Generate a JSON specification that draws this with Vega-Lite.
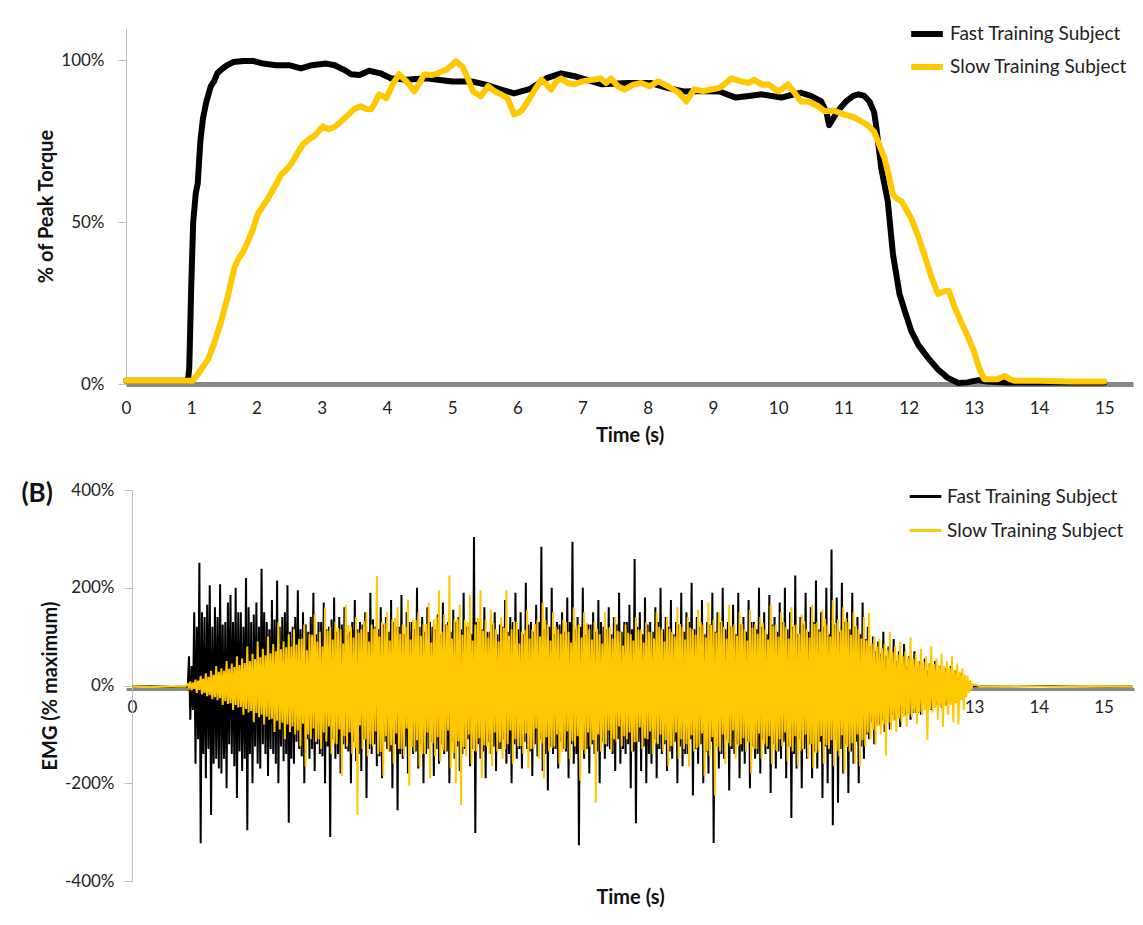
{
"$schema": "https://vega.github.io/schema/vega-lite/v6.json",
"background": "white",
"padding": {"left": 21, "top": 15, "right": 5, "bottom": 5},
"config": {
 "font": "Lato",
 "view": {"stroke": null},
 "axis": {"labelFont": "Lato", "labelFontSize": 17, "labelColor": "#222222", "titleFont": "Lato", "titleFontSize": 20, "titleFontWeight": "bold", "titleColor": "#111111", "grid": false},
 "legend": {"labelFont": "Lato", "labelFontSize": 19, "labelColor": "#222222", "labelLimit": 0},
 "concat": {"spacing": 34}
},
"resolve": {"scale": {"x": "independent", "y": "independent", "color": "independent"}, "legend": {"color": "independent"}},
"datasets": {
 "torque": [
  {"s":"F","t":0,"v":0.01},{"s":"F","t":0.5,"v":0.01},{"s":"F","t":0.95,"v":0.01},{"s":"F","t":0.97,"v":0.05},{"s":"F","t":1.0,"v":0.30},{"s":"F","t":1.03,"v":0.50},{"s":"F","t":1.07,"v":0.59},{"s":"F","t":1.1,"v":0.62},{"s":"F","t":1.14,"v":0.75},{"s":"F","t":1.18,"v":0.82},{"s":"F","t":1.23,"v":0.87},{"s":"F","t":1.3,"v":0.92},{"s":"F","t":1.35,"v":0.935},{"s":"F","t":1.4,"v":0.96},{"s":"F","t":1.48,"v":0.975},{"s":"F","t":1.55,"v":0.985},{"s":"F","t":1.65,"v":0.995},{"s":"F","t":1.8,"v":0.998},{"s":"F","t":1.95,"v":0.998},{"s":"F","t":2.1,"v":0.99},{"s":"F","t":2.3,"v":0.985},{"s":"F","t":2.5,"v":0.985},{"s":"F","t":2.68,"v":0.975},{"s":"F","t":2.85,"v":0.985},{"s":"F","t":3.07,"v":0.99},{"s":"F","t":3.2,"v":0.985},{"s":"F","t":3.35,"v":0.97},{"s":"F","t":3.45,"v":0.957},{"s":"F","t":3.58,"v":0.955},{"s":"F","t":3.73,"v":0.968},{"s":"F","t":3.9,"v":0.96},{"s":"F","t":4.06,"v":0.945},{"s":"F","t":4.3,"v":0.94},{"s":"F","t":4.6,"v":0.945},{"s":"F","t":5.0,"v":0.935},{"s":"F","t":5.3,"v":0.935},{"s":"F","t":5.5,"v":0.926},{"s":"F","t":5.75,"v":0.91},{"s":"F","t":5.95,"v":0.898},{"s":"F","t":6.2,"v":0.912},{"s":"F","t":6.45,"v":0.945},{"s":"F","t":6.67,"v":0.96},{"s":"F","t":6.9,"v":0.95},{"s":"F","t":7.3,"v":0.926},{"s":"F","t":7.7,"v":0.93},{"s":"F","t":8.05,"v":0.93},{"s":"F","t":8.3,"v":0.915},{"s":"F","t":8.55,"v":0.904},{"s":"F","t":8.8,"v":0.905},{"s":"F","t":9.1,"v":0.904},{"s":"F","t":9.35,"v":0.885},{"s":"F","t":9.55,"v":0.89},{"s":"F","t":9.75,"v":0.895},{"s":"F","t":10.05,"v":0.885},{"s":"F","t":10.2,"v":0.893},{"s":"F","t":10.35,"v":0.9},{"s":"F","t":10.5,"v":0.89},{"s":"F","t":10.66,"v":0.873},{"s":"F","t":10.74,"v":0.84},{"s":"F","t":10.78,"v":0.80},{"s":"F","t":10.84,"v":0.82},{"s":"F","t":10.94,"v":0.85},{"s":"F","t":11.05,"v":0.875},{"s":"F","t":11.15,"v":0.89},{"s":"F","t":11.23,"v":0.895},{"s":"F","t":11.32,"v":0.89},{"s":"F","t":11.4,"v":0.873},{"s":"F","t":11.47,"v":0.84},{"s":"F","t":11.5,"v":0.80},{"s":"F","t":11.58,"v":0.667},{"s":"F","t":11.68,"v":0.565},{"s":"F","t":11.76,"v":0.40},{"s":"F","t":11.86,"v":0.278},{"s":"F","t":11.95,"v":0.22},{"s":"F","t":12.04,"v":0.164},{"s":"F","t":12.15,"v":0.12},{"s":"F","t":12.3,"v":0.08},{"s":"F","t":12.45,"v":0.045},{"s":"F","t":12.6,"v":0.019},{"s":"F","t":12.76,"v":0.003},{"s":"F","t":12.9,"v":0.005},{"s":"F","t":13.07,"v":0.012},{"s":"F","t":13.2,"v":0.008},{"s":"F","t":13.5,"v":0.005},{"s":"F","t":14,"v":0.005},{"s":"F","t":14.5,"v":0.005},{"s":"F","t":15,"v":0.005},
  {"s":"S","t":0,"v":0.01},{"s":"S","t":0.5,"v":0.01},{"s":"S","t":1.02,"v":0.01},{"s":"S","t":1.1,"v":0.03},{"s":"S","t":1.26,"v":0.077},{"s":"S","t":1.36,"v":0.13},{"s":"S","t":1.46,"v":0.194},{"s":"S","t":1.56,"v":0.27},{"s":"S","t":1.66,"v":0.358},{"s":"S","t":1.72,"v":0.386},{"s":"S","t":1.8,"v":0.41},{"s":"S","t":1.87,"v":0.44},{"s":"S","t":1.95,"v":0.48},{"s":"S","t":2.02,"v":0.525},{"s":"S","t":2.1,"v":0.55},{"s":"S","t":2.18,"v":0.574},{"s":"S","t":2.28,"v":0.61},{"s":"S","t":2.38,"v":0.648},{"s":"S","t":2.45,"v":0.66},{"s":"S","t":2.53,"v":0.679},{"s":"S","t":2.62,"v":0.71},{"s":"S","t":2.71,"v":0.74},{"s":"S","t":2.8,"v":0.755},{"s":"S","t":2.88,"v":0.765},{"s":"S","t":2.95,"v":0.78},{"s":"S","t":3.02,"v":0.796},{"s":"S","t":3.11,"v":0.787},{"s":"S","t":3.2,"v":0.795},{"s":"S","t":3.3,"v":0.812},{"s":"S","t":3.4,"v":0.83},{"s":"S","t":3.5,"v":0.85},{"s":"S","t":3.6,"v":0.858},{"s":"S","t":3.68,"v":0.85},{"s":"S","t":3.76,"v":0.849},{"s":"S","t":3.82,"v":0.87},{"s":"S","t":3.88,"v":0.895},{"s":"S","t":3.99,"v":0.883},{"s":"S","t":4.1,"v":0.93},{"s":"S","t":4.19,"v":0.957},{"s":"S","t":4.3,"v":0.935},{"s":"S","t":4.42,"v":0.904},{"s":"S","t":4.5,"v":0.93},{"s":"S","t":4.57,"v":0.956},{"s":"S","t":4.7,"v":0.955},{"s":"S","t":4.78,"v":0.96},{"s":"S","t":4.9,"v":0.97},{"s":"S","t":5.0,"v":0.985},{"s":"S","t":5.06,"v":0.997},{"s":"S","t":5.16,"v":0.98},{"s":"S","t":5.25,"v":0.94},{"s":"S","t":5.32,"v":0.904},{"s":"S","t":5.44,"v":0.889},{"s":"S","t":5.55,"v":0.92},{"s":"S","t":5.65,"v":0.905},{"s":"S","t":5.75,"v":0.895},{"s":"S","t":5.85,"v":0.883},{"s":"S","t":5.95,"v":0.833},{"s":"S","t":6.06,"v":0.843},{"s":"S","t":6.16,"v":0.873},{"s":"S","t":6.27,"v":0.91},{"s":"S","t":6.37,"v":0.94},{"s":"S","t":6.45,"v":0.925},{"s":"S","t":6.52,"v":0.91},{"s":"S","t":6.6,"v":0.935},{"s":"S","t":6.67,"v":0.944},{"s":"S","t":6.77,"v":0.93},{"s":"S","t":6.87,"v":0.926},{"s":"S","t":7.0,"v":0.935},{"s":"S","t":7.15,"v":0.94},{"s":"S","t":7.28,"v":0.944},{"s":"S","t":7.36,"v":0.93},{"s":"S","t":7.44,"v":0.944},{"s":"S","t":7.54,"v":0.92},{"s":"S","t":7.64,"v":0.91},{"s":"S","t":7.78,"v":0.925},{"s":"S","t":7.9,"v":0.93},{"s":"S","t":8.03,"v":0.92},{"s":"S","t":8.16,"v":0.935},{"s":"S","t":8.26,"v":0.925},{"s":"S","t":8.36,"v":0.914},{"s":"S","t":8.48,"v":0.9},{"s":"S","t":8.59,"v":0.873},{"s":"S","t":8.71,"v":0.91},{"s":"S","t":8.85,"v":0.905},{"s":"S","t":8.97,"v":0.91},{"s":"S","t":9.1,"v":0.915},{"s":"S","t":9.2,"v":0.93},{"s":"S","t":9.28,"v":0.944},{"s":"S","t":9.43,"v":0.935},{"s":"S","t":9.55,"v":0.93},{"s":"S","t":9.63,"v":0.94},{"s":"S","t":9.75,"v":0.925},{"s":"S","t":9.85,"v":0.926},{"s":"S","t":10.0,"v":0.904},{"s":"S","t":10.08,"v":0.915},{"s":"S","t":10.15,"v":0.926},{"s":"S","t":10.25,"v":0.9},{"s":"S","t":10.35,"v":0.873},{"s":"S","t":10.46,"v":0.873},{"s":"S","t":10.6,"v":0.86},{"s":"S","t":10.71,"v":0.843},{"s":"S","t":10.85,"v":0.845},{"s":"S","t":11.0,"v":0.833},{"s":"S","t":11.15,"v":0.825},{"s":"S","t":11.27,"v":0.812},{"s":"S","t":11.37,"v":0.8},{"s":"S","t":11.47,"v":0.78},{"s":"S","t":11.55,"v":0.74},{"s":"S","t":11.63,"v":0.698},{"s":"S","t":11.7,"v":0.64},{"s":"S","t":11.76,"v":0.586},{"s":"S","t":11.82,"v":0.572},{"s":"S","t":11.89,"v":0.565},{"s":"S","t":11.96,"v":0.54},{"s":"S","t":12.04,"v":0.512},{"s":"S","t":12.14,"v":0.46},{"s":"S","t":12.24,"v":0.40},{"s":"S","t":12.35,"v":0.33},{"s":"S","t":12.45,"v":0.278},{"s":"S","t":12.55,"v":0.287},{"s":"S","t":12.62,"v":0.287},{"s":"S","t":12.7,"v":0.24},{"s":"S","t":12.8,"v":0.194},{"s":"S","t":12.9,"v":0.15},{"s":"S","t":13.0,"v":0.102},{"s":"S","t":13.08,"v":0.05},{"s":"S","t":13.16,"v":0.015},{"s":"S","t":13.3,"v":0.015},{"s":"S","t":13.37,"v":0.015},{"s":"S","t":13.47,"v":0.025},{"s":"S","t":13.55,"v":0.015},{"s":"S","t":13.62,"v":0.01},{"s":"S","t":14,"v":0.01},{"s":"S","t":14.5,"v":0.008},{"s":"S","t":15,"v":0.008}
 ],
 "emg": [
  {"s":"F","t":0,"v":-2},{"s":"F","t":0.3,"v":-1},{"s":"F","t":0.6,"v":-3},{"s":"F","t":0.86,"v":-2},
  {"s":"F","t":0.88,"v":60},{"s":"F","t":0.9,"v":-70},{"s":"F","t":0.92,"v":40},{"s":"F","t":0.94,"v":-50},
  {"s":"F","t":0.96,"v":150},{"s":"F","t":0.98,"v":-160},{"s":"F","t":1.0,"v":120},{"s":"F","t":1.02,"v":-110},
  {"s":"F","t":1.04,"v":251},{"s":"F","t":1.06,"v":-323},{"s":"F","t":1.08,"v":150},{"s":"F","t":1.1,"v":-140},
  {"s":"F","t":1.12,"v":140},{"s":"F","t":1.14,"v":-190},{"s":"F","t":1.16,"v":165},{"s":"F","t":1.18,"v":-130},
  {"s":"F","t":1.2,"v":205},{"s":"F","t":1.22,"v":-265},{"s":"F","t":1.24,"v":120},{"s":"F","t":1.26,"v":-160},
  {"s":"F","t":1.28,"v":160},{"s":"F","t":1.3,"v":-150},{"s":"F","t":1.32,"v":140},{"s":"F","t":1.34,"v":-170},
  {"s":"F","t":1.36,"v":207},{"s":"F","t":1.38,"v":-180},{"s":"F","t":1.4,"v":125},{"s":"F","t":1.42,"v":-150},
  {"s":"F","t":1.44,"v":130},{"s":"F","t":1.46,"v":-210},{"s":"F","t":1.48,"v":170},{"s":"F","t":1.5,"v":-120},
  {"s":"F","t":1.52,"v":185},{"s":"F","t":1.54,"v":-140},{"s":"F","t":1.56,"v":130},{"s":"F","t":1.58,"v":-165},
  {"s":"F","t":1.6,"v":200},{"s":"F","t":1.62,"v":-230},{"s":"F","t":1.64,"v":150},{"s":"F","t":1.66,"v":-135},
  {"s":"F","t":1.68,"v":150},{"s":"F","t":1.7,"v":-175},{"s":"F","t":1.72,"v":120},{"s":"F","t":1.74,"v":-150},
  {"s":"F","t":1.76,"v":220},{"s":"F","t":1.78,"v":-296},{"s":"F","t":1.8,"v":160},{"s":"F","t":1.82,"v":-140},
  {"s":"F","t":1.84,"v":130},{"s":"F","t":1.86,"v":-200},{"s":"F","t":1.88,"v":145},{"s":"F","t":1.9,"v":-125},
  {"s":"F","t":1.92,"v":170},{"s":"F","t":1.94,"v":-160},{"s":"F","t":1.96,"v":120},{"s":"F","t":1.98,"v":-170},
  {"s":"F","t":2.0,"v":239},{"s":"F","t":2.02,"v":-120},{"s":"F","t":2.04,"v":150},{"s":"F","t":2.06,"v":-140},
  {"s":"F","t":2.08,"v":130},{"s":"F","t":2.1,"v":-185},{"s":"F","t":2.12,"v":115},{"s":"F","t":2.14,"v":-130},
  {"s":"F","t":2.16,"v":175},{"s":"F","t":2.18,"v":-140},{"s":"F","t":2.2,"v":135},{"s":"F","t":2.22,"v":-160},
  {"s":"F","t":2.24,"v":215},{"s":"F","t":2.26,"v":-200},{"s":"F","t":2.28,"v":120},{"s":"F","t":2.3,"v":-125},
  {"s":"F","t":2.32,"v":140},{"s":"F","t":2.34,"v":-155},{"s":"F","t":2.36,"v":150},{"s":"F","t":2.38,"v":-140},
  {"s":"F","t":2.4,"v":205},{"s":"F","t":2.42,"v":-281},{"s":"F","t":2.44,"v":110},{"s":"F","t":2.46,"v":-150},
  {"s":"F","t":2.48,"v":120},{"s":"F","t":2.5,"v":-160},{"s":"F","t":2.52,"v":140},{"s":"F","t":2.54,"v":-115},
  {"s":"F","t":2.56,"v":195},{"s":"F","t":2.58,"v":-130},{"s":"F","t":2.6,"v":115},{"s":"F","t":2.62,"v":-145},
  {"s":"F","t":2.64,"v":150},{"s":"F","t":2.66,"v":-200},{"s":"F","t":2.68,"v":125},{"s":"F","t":2.7,"v":-110},
  {"s":"F","t":2.72,"v":110},{"s":"F","t":2.74,"v":-150},{"s":"F","t":2.76,"v":140},{"s":"F","t":2.78,"v":-130},
  {"s":"F","t":2.8,"v":190},{"s":"F","t":2.82,"v":-175},{"s":"F","t":2.84,"v":105},{"s":"F","t":2.86,"v":-120},
  {"s":"F","t":2.88,"v":130},{"s":"F","t":2.9,"v":-140},{"s":"F","t":2.92,"v":130},{"s":"F","t":2.94,"v":-145},
  {"s":"F","t":2.96,"v":170},{"s":"F","t":2.98,"v":-200},{"s":"F","t":3.0,"v":115},{"s":"F","t":3.02,"v":-125},
  {"s":"F","t":3.04,"v":120},{"s":"F","t":3.06,"v":-310},{"s":"F","t":3.08,"v":135},{"s":"F","t":3.1,"v":-110},
  {"s":"F","t":3.12,"v":180},{"s":"F","t":3.14,"v":-150},{"s":"F","t":3.16,"v":110},{"s":"F","t":3.18,"v":-140},
  {"s":"F","t":3.2,"v":140},{"s":"F","t":3.22,"v":-180},{"s":"F","t":3.24,"v":125},{"s":"F","t":3.26,"v":-120},
  {"s":"F","t":3.28,"v":160},{"s":"F","t":3.3,"v":-130},{"s":"F","t":3.32,"v":105},{"s":"F","t":3.34,"v":-135},
  {"s":"F","t":3.36,"v":110},{"s":"F","t":3.38,"v":-200},{"s":"F","t":3.4,"v":130},{"s":"F","t":3.42,"v":-115},
  {"s":"F","t":3.44,"v":175},{"s":"F","t":3.46,"v":-155},{"s":"F","t":3.48,"v":115},{"s":"F","t":3.5,"v":-140},
  {"s":"F","t":3.52,"v":130},{"s":"F","t":3.54,"v":-175},{"s":"F","t":3.56,"v":125},{"s":"F","t":3.58,"v":-110},
  {"s":"F","t":3.6,"v":150},{"s":"F","t":3.62,"v":-230},{"s":"F","t":3.64,"v":110},{"s":"F","t":3.66,"v":-130},
  {"s":"F","t":3.68,"v":190},{"s":"F","t":3.7,"v":-140},{"s":"F","t":3.72,"v":135},{"s":"F","t":3.74,"v":-120},
  {"s":"F","t":3.76,"v":120},{"s":"F","t":3.78,"v":-165},{"s":"F","t":3.8,"v":115},{"s":"F","t":3.82,"v":-145},
  {"s":"F","t":3.84,"v":160},{"s":"F","t":3.86,"v":-190},{"s":"F","t":3.88,"v":125},{"s":"F","t":3.9,"v":-115},
  {"s":"F","t":3.92,"v":140},{"s":"F","t":3.94,"v":-130},{"s":"F","t":3.96,"v":110},{"s":"F","t":3.98,"v":-135},
  {"s":"F","t":4.0,"v":175},{"s":"F","t":4.02,"v":-210},{"s":"F","t":4.04,"v":130},{"s":"F","t":4.06,"v":-120},
  {"s":"F","t":4.08,"v":120},{"s":"F","t":4.1,"v":-255},{"s":"F","t":4.12,"v":120},{"s":"F","t":4.14,"v":-140},
  {"s":"F","t":4.16,"v":185},{"s":"F","t":4.18,"v":-150},{"s":"F","t":4.2,"v":105},{"s":"F","t":4.22,"v":-125},
  {"s":"F","t":4.24,"v":150},{"s":"F","t":4.26,"v":-180},{"s":"F","t":4.28,"v":130},{"s":"F","t":4.3,"v":-110},
  {"s":"F","t":4.32,"v":130},{"s":"F","t":4.34,"v":-140},{"s":"F","t":4.36,"v":115},{"s":"F","t":4.38,"v":-135},
  {"s":"F","t":4.4,"v":200},{"s":"F","t":4.42,"v":-170},{"s":"F","t":4.44,"v":120},{"s":"F","t":4.46,"v":-120},
  {"s":"F","t":4.48,"v":140},{"s":"F","t":4.5,"v":-200},{"s":"F","t":4.52,"v":110},{"s":"F","t":4.54,"v":-140},
  {"s":"F","t":4.56,"v":160},{"s":"F","t":4.58,"v":-130},{"s":"F","t":4.6,"v":130},{"s":"F","t":4.62,"v":-115},
  {"s":"F","t":4.64,"v":120},{"s":"F","t":4.66,"v":-185},{"s":"F","t":4.68,"v":115},{"s":"F","t":4.7,"v":-130},
  {"s":"F","t":4.72,"v":145},{"s":"F","t":4.74,"v":-160},{"s":"F","t":4.76,"v":105},{"s":"F","t":4.78,"v":-120},
  {"s":"F","t":4.8,"v":170},{"s":"F","t":4.82,"v":-140},{"s":"F","t":4.84,"v":125},{"s":"F","t":4.86,"v":-135},
  {"s":"F","t":4.88,"v":130},{"s":"F","t":4.9,"v":-200},{"s":"F","t":4.92,"v":110},{"s":"F","t":4.94,"v":-115},
  {"s":"F","t":4.96,"v":155},{"s":"F","t":4.98,"v":-150},{"s":"F","t":5.0,"v":130},{"s":"F","t":5.02,"v":-125},
  {"s":"F","t":5.04,"v":140},{"s":"F","t":5.06,"v":-175},{"s":"F","t":5.08,"v":115},{"s":"F","t":5.1,"v":-140},
  {"s":"F","t":5.12,"v":190},{"s":"F","t":5.14,"v":-130},{"s":"F","t":5.16,"v":120},{"s":"F","t":5.18,"v":-110},
  {"s":"F","t":5.2,"v":120},{"s":"F","t":5.22,"v":-165},{"s":"F","t":5.24,"v":105},{"s":"F","t":5.26,"v":-130},
  {"s":"F","t":5.28,"v":304},{"s":"F","t":5.3,"v":-302},{"s":"F","t":5.32,"v":130},{"s":"F","t":5.34,"v":-120},
  {"s":"F","t":5.36,"v":130},{"s":"F","t":5.38,"v":-150},{"s":"F","t":5.4,"v":115},{"s":"F","t":5.42,"v":-135},
  {"s":"F","t":5.44,"v":160},{"s":"F","t":5.46,"v":-190},{"s":"F","t":5.48,"v":110},{"s":"F","t":5.5,"v":-115},
  {"s":"F","t":5.52,"v":110},{"s":"F","t":5.54,"v":-140},{"s":"F","t":5.56,"v":125},{"s":"F","t":5.58,"v":-125},
  {"s":"F","t":5.6,"v":150},{"s":"F","t":5.62,"v":-175},{"s":"F","t":5.64,"v":105},{"s":"F","t":5.66,"v":-130},
  {"s":"F","t":5.68,"v":125},{"s":"F","t":5.7,"v":-130},{"s":"F","t":5.72,"v":120},{"s":"F","t":5.74,"v":-110},
  {"s":"F","t":5.76,"v":175},{"s":"F","t":5.78,"v":-160},{"s":"F","t":5.8,"v":110},{"s":"F","t":5.82,"v":-140},
  {"s":"F","t":5.84,"v":140},{"s":"F","t":5.86,"v":-200},{"s":"F","t":5.88,"v":130},{"s":"F","t":5.9,"v":-120},
  {"s":"F","t":5.92,"v":190},{"s":"F","t":5.94,"v":-150},{"s":"F","t":5.96,"v":115},{"s":"F","t":5.98,"v":-130},
  {"s":"F","t":6.0,"v":150},{"s":"F","t":6.02,"v":-170},{"s":"F","t":6.04,"v":105},{"s":"F","t":6.06,"v":-115},
  {"s":"F","t":6.08,"v":210},{"s":"F","t":6.1,"v":-130},{"s":"F","t":6.12,"v":125},{"s":"F","t":6.14,"v":-135},
  {"s":"F","t":6.16,"v":130},{"s":"F","t":6.18,"v":-185},{"s":"F","t":6.2,"v":110},{"s":"F","t":6.22,"v":-120},
  {"s":"F","t":6.24,"v":165},{"s":"F","t":6.26,"v":-145},{"s":"F","t":6.28,"v":130},{"s":"F","t":6.3,"v":-110},
  {"s":"F","t":6.32,"v":284},{"s":"F","t":6.34,"v":-175},{"s":"F","t":6.36,"v":115},{"s":"F","t":6.38,"v":-140},
  {"s":"F","t":6.4,"v":160},{"s":"F","t":6.42,"v":-215},{"s":"F","t":6.44,"v":120},{"s":"F","t":6.46,"v":-125},
  {"s":"F","t":6.48,"v":200},{"s":"F","t":6.5,"v":-140},{"s":"F","t":6.52,"v":105},{"s":"F","t":6.54,"v":-130},
  {"s":"F","t":6.56,"v":130},{"s":"F","t":6.58,"v":-170},{"s":"F","t":6.6,"v":125},{"s":"F","t":6.62,"v":-115},
  {"s":"F","t":6.64,"v":150},{"s":"F","t":6.66,"v":-130},{"s":"F","t":6.68,"v":110},{"s":"F","t":6.7,"v":-135},
  {"s":"F","t":6.72,"v":180},{"s":"F","t":6.74,"v":-190},{"s":"F","t":6.76,"v":130},{"s":"F","t":6.78,"v":-120},
  {"s":"F","t":6.8,"v":294},{"s":"F","t":6.82,"v":-160},{"s":"F","t":6.84,"v":115},{"s":"F","t":6.86,"v":-140},
  {"s":"F","t":6.88,"v":140},{"s":"F","t":6.9,"v":-327},{"s":"F","t":6.92,"v":120},{"s":"F","t":6.94,"v":-110},
  {"s":"F","t":6.96,"v":200},{"s":"F","t":6.98,"v":-150},{"s":"F","t":7.0,"v":105},{"s":"F","t":7.02,"v":-130},
  {"s":"F","t":7.04,"v":125},{"s":"F","t":7.06,"v":-180},{"s":"F","t":7.08,"v":125},{"s":"F","t":7.1,"v":-120},
  {"s":"F","t":7.12,"v":150},{"s":"F","t":7.14,"v":-140},{"s":"F","t":7.16,"v":110},{"s":"F","t":7.18,"v":-135},
  {"s":"F","t":7.2,"v":175},{"s":"F","t":7.22,"v":-200},{"s":"F","t":7.24,"v":130},{"s":"F","t":7.26,"v":-115},
  {"s":"F","t":7.28,"v":120},{"s":"F","t":7.3,"v":-150},{"s":"F","t":7.32,"v":115},{"s":"F","t":7.34,"v":-125},
  {"s":"F","t":7.36,"v":160},{"s":"F","t":7.38,"v":-130},{"s":"F","t":7.4,"v":105},{"s":"F","t":7.42,"v":-140},
  {"s":"F","t":7.44,"v":140},{"s":"F","t":7.46,"v":-175},{"s":"F","t":7.48,"v":125},{"s":"F","t":7.5,"v":-110},
  {"s":"F","t":7.52,"v":190},{"s":"F","t":7.54,"v":-160},{"s":"F","t":7.56,"v":110},{"s":"F","t":7.58,"v":-130},
  {"s":"F","t":7.6,"v":130},{"s":"F","t":7.62,"v":-140},{"s":"F","t":7.64,"v":130},{"s":"F","t":7.66,"v":-120},
  {"s":"F","t":7.68,"v":165},{"s":"F","t":7.7,"v":-210},{"s":"F","t":7.72,"v":115},{"s":"F","t":7.74,"v":-135},
  {"s":"F","t":7.76,"v":259},{"s":"F","t":7.78,"v":-282},{"s":"F","t":7.8,"v":120},{"s":"F","t":7.82,"v":-115},
  {"s":"F","t":7.84,"v":150},{"s":"F","t":7.86,"v":-175},{"s":"F","t":7.88,"v":105},{"s":"F","t":7.9,"v":-125},
  {"s":"F","t":7.92,"v":180},{"s":"F","t":7.94,"v":-200},{"s":"F","t":7.96,"v":125},{"s":"F","t":7.98,"v":-140},
  {"s":"F","t":8.0,"v":130},{"s":"F","t":8.02,"v":-160},{"s":"F","t":8.04,"v":110},{"s":"F","t":8.06,"v":-110},
  {"s":"F","t":8.08,"v":160},{"s":"F","t":8.1,"v":-190},{"s":"F","t":8.12,"v":130},{"s":"F","t":8.14,"v":-130},
  {"s":"F","t":8.16,"v":200},{"s":"F","t":8.18,"v":-140},{"s":"F","t":8.2,"v":115},{"s":"F","t":8.22,"v":-120},
  {"s":"F","t":8.24,"v":140},{"s":"F","t":8.26,"v":-175},{"s":"F","t":8.28,"v":120},{"s":"F","t":8.3,"v":-135},
  {"s":"F","t":8.32,"v":175},{"s":"F","t":8.34,"v":-150},{"s":"F","t":8.36,"v":105},{"s":"F","t":8.38,"v":-115},
  {"s":"F","t":8.4,"v":130},{"s":"F","t":8.42,"v":-200},{"s":"F","t":8.44,"v":125},{"s":"F","t":8.46,"v":-125},
  {"s":"F","t":8.48,"v":190},{"s":"F","t":8.5,"v":-165},{"s":"F","t":8.52,"v":110},{"s":"F","t":8.54,"v":-140},
  {"s":"F","t":8.56,"v":150},{"s":"F","t":8.58,"v":-140},{"s":"F","t":8.6,"v":130},{"s":"F","t":8.62,"v":-110},
  {"s":"F","t":8.64,"v":210},{"s":"F","t":8.66,"v":-225},{"s":"F","t":8.68,"v":115},{"s":"F","t":8.7,"v":-130},
  {"s":"F","t":8.72,"v":140},{"s":"F","t":8.74,"v":-160},{"s":"F","t":8.76,"v":120},{"s":"F","t":8.78,"v":-120},
  {"s":"F","t":8.8,"v":175},{"s":"F","t":8.82,"v":-200},{"s":"F","t":8.84,"v":105},{"s":"F","t":8.86,"v":-135},
  {"s":"F","t":8.88,"v":130},{"s":"F","t":8.9,"v":-180},{"s":"F","t":8.92,"v":125},{"s":"F","t":8.94,"v":-115},
  {"s":"F","t":8.96,"v":190},{"s":"F","t":8.98,"v":-322},{"s":"F","t":9.0,"v":110},{"s":"F","t":9.02,"v":-125},
  {"s":"F","t":9.04,"v":150},{"s":"F","t":9.06,"v":-170},{"s":"F","t":9.08,"v":130},{"s":"F","t":9.1,"v":-140},
  {"s":"F","t":9.12,"v":200},{"s":"F","t":9.14,"v":-150},{"s":"F","t":9.16,"v":115},{"s":"F","t":9.18,"v":-110},
  {"s":"F","t":9.2,"v":130},{"s":"F","t":9.22,"v":-215},{"s":"F","t":9.24,"v":120},{"s":"F","t":9.26,"v":-130},
  {"s":"F","t":9.28,"v":165},{"s":"F","t":9.3,"v":-140},{"s":"F","t":9.32,"v":105},{"s":"F","t":9.34,"v":-120},
  {"s":"F","t":9.36,"v":190},{"s":"F","t":9.38,"v":-190},{"s":"F","t":9.4,"v":125},{"s":"F","t":9.42,"v":-135},
  {"s":"F","t":9.44,"v":140},{"s":"F","t":9.46,"v":-160},{"s":"F","t":9.48,"v":110},{"s":"F","t":9.5,"v":-115},
  {"s":"F","t":9.52,"v":175},{"s":"F","t":9.54,"v":-210},{"s":"F","t":9.56,"v":130},{"s":"F","t":9.58,"v":-125},
  {"s":"F","t":9.6,"v":130},{"s":"F","t":9.62,"v":-150},{"s":"F","t":9.64,"v":115},{"s":"F","t":9.66,"v":-140},
  {"s":"F","t":9.68,"v":200},{"s":"F","t":9.7,"v":-180},{"s":"F","t":9.72,"v":120},{"s":"F","t":9.74,"v":-110},
  {"s":"F","t":9.76,"v":150},{"s":"F","t":9.78,"v":-140},{"s":"F","t":9.8,"v":105},{"s":"F","t":9.82,"v":-130},
  {"s":"F","t":9.84,"v":185},{"s":"F","t":9.86,"v":-220},{"s":"F","t":9.88,"v":125},{"s":"F","t":9.9,"v":-120},
  {"s":"F","t":9.92,"v":140},{"s":"F","t":9.94,"v":-170},{"s":"F","t":9.96,"v":110},{"s":"F","t":9.98,"v":-135},
  {"s":"F","t":10.0,"v":170},{"s":"F","t":10.02,"v":-150},{"s":"F","t":10.04,"v":130},{"s":"F","t":10.06,"v":-115},
  {"s":"F","t":10.08,"v":200},{"s":"F","t":10.1,"v":-190},{"s":"F","t":10.12,"v":115},{"s":"F","t":10.14,"v":-125},
  {"s":"F","t":10.16,"v":150},{"s":"F","t":10.18,"v":-271},{"s":"F","t":10.2,"v":120},{"s":"F","t":10.22,"v":-140},
  {"s":"F","t":10.24,"v":225},{"s":"F","t":10.26,"v":-170},{"s":"F","t":10.28,"v":105},{"s":"F","t":10.3,"v":-110},
  {"s":"F","t":10.32,"v":140},{"s":"F","t":10.34,"v":-210},{"s":"F","t":10.36,"v":125},{"s":"F","t":10.38,"v":-130},
  {"s":"F","t":10.4,"v":190},{"s":"F","t":10.42,"v":-150},{"s":"F","t":10.44,"v":110},{"s":"F","t":10.46,"v":-120},
  {"s":"F","t":10.48,"v":160},{"s":"F","t":10.5,"v":-190},{"s":"F","t":10.52,"v":130},{"s":"F","t":10.54,"v":-135},
  {"s":"F","t":10.56,"v":215},{"s":"F","t":10.58,"v":-170},{"s":"F","t":10.6,"v":115},{"s":"F","t":10.62,"v":-115},
  {"s":"F","t":10.64,"v":150},{"s":"F","t":10.66,"v":-230},{"s":"F","t":10.68,"v":120},{"s":"F","t":10.7,"v":-125},
  {"s":"F","t":10.72,"v":200},{"s":"F","t":10.74,"v":-200},{"s":"F","t":10.76,"v":105},{"s":"F","t":10.78,"v":-140},
  {"s":"F","t":10.8,"v":278},{"s":"F","t":10.82,"v":-286},{"s":"F","t":10.84,"v":125},{"s":"F","t":10.86,"v":-110},
  {"s":"F","t":10.88,"v":180},{"s":"F","t":10.9,"v":-240},{"s":"F","t":10.92,"v":110},{"s":"F","t":10.94,"v":-130},
  {"s":"F","t":10.96,"v":210},{"s":"F","t":10.98,"v":-180},{"s":"F","t":11.0,"v":130},{"s":"F","t":11.02,"v":-120},
  {"s":"F","t":11.04,"v":150},{"s":"F","t":11.06,"v":-220},{"s":"F","t":11.08,"v":115},{"s":"F","t":11.1,"v":-135},
  {"s":"F","t":11.12,"v":190},{"s":"F","t":11.14,"v":-160},{"s":"F","t":11.16,"v":120},{"s":"F","t":11.18,"v":-115},
  {"s":"F","t":11.2,"v":140},{"s":"F","t":11.22,"v":-200},{"s":"F","t":11.24,"v":105},{"s":"F","t":11.26,"v":-125},
  {"s":"F","t":11.28,"v":170},{"s":"F","t":11.3,"v":-150},{"s":"F","t":11.32,"v":95},{"s":"F","t":11.34,"v":-100},
  {"s":"F","t":11.36,"v":120},{"s":"F","t":11.38,"v":-110},{"s":"F","t":11.4,"v":80},{"s":"F","t":11.42,"v":-75},
  {"s":"F","t":11.44,"v":100},{"s":"F","t":11.46,"v":-120},{"s":"F","t":11.48,"v":70},{"s":"F","t":11.5,"v":-80},
  {"s":"F","t":11.52,"v":90},{"s":"F","t":11.54,"v":-80},{"s":"F","t":11.56,"v":65},{"s":"F","t":11.58,"v":-70},
  {"s":"F","t":11.6,"v":110},{"s":"F","t":11.62,"v":-95},{"s":"F","t":11.64,"v":60},{"s":"F","t":11.66,"v":-65},
  {"s":"F","t":11.68,"v":80},{"s":"F","t":11.7,"v":-90},{"s":"F","t":11.72,"v":55},{"s":"F","t":11.74,"v":-60},
  {"s":"F","t":11.76,"v":95},{"s":"F","t":11.78,"v":-70},{"s":"F","t":11.8,"v":50},{"s":"F","t":11.82,"v":-55},
  {"s":"F","t":11.84,"v":70},{"s":"F","t":11.86,"v":-85},{"s":"F","t":11.88,"v":45},{"s":"F","t":11.9,"v":-50},
  {"s":"F","t":11.92,"v":85},{"s":"F","t":11.94,"v":-60},{"s":"F","t":11.96,"v":40},{"s":"F","t":11.98,"v":-45},
  {"s":"F","t":12.0,"v":60},{"s":"F","t":12.02,"v":-70},{"s":"F","t":12.04,"v":40},{"s":"F","t":12.06,"v":-40},
  {"s":"F","t":12.08,"v":70},{"s":"F","t":12.1,"v":-55},{"s":"F","t":12.12,"v":35},{"s":"F","t":12.14,"v":-40},
  {"s":"F","t":12.16,"v":50},{"s":"F","t":12.18,"v":-60},{"s":"F","t":12.2,"v":35},{"s":"F","t":12.22,"v":-30},
  {"s":"F","t":12.24,"v":55},{"s":"F","t":12.26,"v":-45},{"s":"F","t":12.28,"v":30},{"s":"F","t":12.3,"v":-35},
  {"s":"F","t":12.32,"v":45},{"s":"F","t":12.34,"v":-50},{"s":"F","t":12.36,"v":30},{"s":"F","t":12.38,"v":-30},
  {"s":"F","t":12.4,"v":50},{"s":"F","t":12.42,"v":-40},{"s":"F","t":12.44,"v":25},{"s":"F","t":12.46,"v":-30},
  {"s":"F","t":12.48,"v":40},{"s":"F","t":12.5,"v":-45},{"s":"F","t":12.52,"v":25},{"s":"F","t":12.54,"v":-25},
  {"s":"F","t":12.56,"v":35},{"s":"F","t":12.58,"v":-40},{"s":"F","t":12.6,"v":20},{"s":"F","t":12.62,"v":-25},
  {"s":"F","t":12.64,"v":40},{"s":"F","t":12.66,"v":-30},{"s":"F","t":12.68,"v":20},{"s":"F","t":12.7,"v":-20},
  {"s":"F","t":12.72,"v":30},{"s":"F","t":12.74,"v":-35},{"s":"F","t":12.76,"v":15},{"s":"F","t":12.78,"v":-20},
  {"s":"F","t":12.8,"v":25},{"s":"F","t":12.82,"v":-25},{"s":"F","t":12.84,"v":12},{"s":"F","t":12.86,"v":-10},
  {"s":"F","t":12.88,"v":8},{"s":"F","t":12.9,"v":-5},{"s":"F","t":13.0,"v":-2},{"s":"F","t":14.0,"v":-1},{"s":"F","t":15.0,"v":-2},{"s":"F","t":15.45,"v":-2},
  {"s":"S","t":0,"v":-2},{"s":"S","t":0.4,"v":-2},{"s":"S","t":0.82,"v":-2},{"s":"S","t":0.86,"v":3},{"s":"S","t":0.88,"v":-4},
  {"s":"S","t":0.9,"v":8},{"s":"S","t":0.92,"v":-10},{"s":"S","t":0.94,"v":6},{"s":"S","t":0.96,"v":-7},
  {"s":"S","t":0.98,"v":12},{"s":"S","t":1.0,"v":-15},{"s":"S","t":1.02,"v":10},{"s":"S","t":1.04,"v":-9},
  {"s":"S","t":1.06,"v":20},{"s":"S","t":1.08,"v":-18},{"s":"S","t":1.1,"v":14},{"s":"S","t":1.12,"v":-15},
  {"s":"S","t":1.14,"v":25},{"s":"S","t":1.16,"v":-22},{"s":"S","t":1.18,"v":18},{"s":"S","t":1.2,"v":-20},
  {"s":"S","t":1.22,"v":30},{"s":"S","t":1.24,"v":-28},{"s":"S","t":1.26,"v":22},{"s":"S","t":1.28,"v":-24},
  {"s":"S","t":1.3,"v":40},{"s":"S","t":1.32,"v":-30},{"s":"S","t":1.34,"v":28},{"s":"S","t":1.36,"v":-26},
  {"s":"S","t":1.38,"v":35},{"s":"S","t":1.4,"v":-40},{"s":"S","t":1.42,"v":30},{"s":"S","t":1.44,"v":-32},
  {"s":"S","t":1.46,"v":50},{"s":"S","t":1.48,"v":-38},{"s":"S","t":1.5,"v":34},{"s":"S","t":1.52,"v":-36},
  {"s":"S","t":1.54,"v":45},{"s":"S","t":1.56,"v":-50},{"s":"S","t":1.58,"v":38},{"s":"S","t":1.6,"v":-40},
  {"s":"S","t":1.62,"v":60},{"s":"S","t":1.64,"v":-45},{"s":"S","t":1.66,"v":42},{"s":"S","t":1.68,"v":-44},
  {"s":"S","t":1.7,"v":55},{"s":"S","t":1.72,"v":-60},{"s":"S","t":1.74,"v":46},{"s":"S","t":1.76,"v":-48},
  {"s":"S","t":1.78,"v":80},{"s":"S","t":1.8,"v":-55},{"s":"S","t":1.82,"v":50},{"s":"S","t":1.84,"v":-52},
  {"s":"S","t":1.86,"v":65},{"s":"S","t":1.88,"v":-75},{"s":"S","t":1.9,"v":54},{"s":"S","t":1.92,"v":-56},
  {"s":"S","t":1.94,"v":90},{"s":"S","t":1.96,"v":-65},{"s":"S","t":1.98,"v":58},{"s":"S","t":2.0,"v":-60},
  {"s":"S","t":2.02,"v":75},{"s":"S","t":2.04,"v":-80},{"s":"S","t":2.06,"v":62},{"s":"S","t":2.08,"v":-64},
  {"s":"S","t":2.1,"v":100},{"s":"S","t":2.12,"v":-70},{"s":"S","t":2.14,"v":66},{"s":"S","t":2.16,"v":-68},
  {"s":"S","t":2.18,"v":85},{"s":"S","t":2.2,"v":-95},{"s":"S","t":2.22,"v":70},{"s":"S","t":2.24,"v":-72},
  {"s":"S","t":2.26,"v":130},{"s":"S","t":2.28,"v":-90},{"s":"S","t":2.3,"v":74},{"s":"S","t":2.32,"v":-76},
  {"s":"S","t":2.34,"v":90},{"s":"S","t":2.36,"v":-110},{"s":"S","t":2.38,"v":78},{"s":"S","t":2.4,"v":-80},
  {"s":"S","t":2.42,"v":105},{"s":"S","t":2.44,"v":-95},{"s":"S","t":2.46,"v":80},{"s":"S","t":2.48,"v":-84},
  {"s":"S","t":2.5,"v":115},{"s":"S","t":2.52,"v":-100},{"s":"S","t":2.54,"v":84},{"s":"S","t":2.56,"v":-92},
  {"s":"S","t":2.58,"v":95},{"s":"S","t":2.6,"v":-125},{"s":"S","t":2.62,"v":96},{"s":"S","t":2.64,"v":-78},
  {"s":"S","t":2.66,"v":125},{"s":"S","t":2.68,"v":-165},{"s":"S","t":2.7,"v":72},{"s":"S","t":2.72,"v":-100},
  {"s":"S","t":2.74,"v":105},{"s":"S","t":2.76,"v":-110},{"s":"S","t":2.78,"v":104},{"s":"S","t":2.8,"v":-88},
  {"s":"S","t":2.82,"v":145},{"s":"S","t":2.84,"v":-115},{"s":"S","t":2.86,"v":90},{"s":"S","t":2.88,"v":-110},
  {"s":"S","t":2.9,"v":110},{"s":"S","t":2.92,"v":-130},{"s":"S","t":2.94,"v":80},{"s":"S","t":2.96,"v":-96},
  {"s":"S","t":2.98,"v":160},{"s":"S","t":3.0,"v":-115},{"s":"S","t":3.02,"v":112},{"s":"S","t":3.04,"v":-84},
  {"s":"S","t":3.06,"v":120},{"s":"S","t":3.08,"v":-140},{"s":"S","t":3.1,"v":94},{"s":"S","t":3.12,"v":-118},
  {"s":"S","t":3.14,"v":130},{"s":"S","t":3.16,"v":-120},{"s":"S","t":3.18,"v":118},{"s":"S","t":3.2,"v":-90},
  {"s":"S","t":3.22,"v":115},{"s":"S","t":3.24,"v":-185},{"s":"S","t":3.26,"v":86},{"s":"S","t":3.28,"v":-104},
  {"s":"S","t":3.3,"v":165},{"s":"S","t":3.32,"v":-125},{"s":"S","t":3.34,"v":124},{"s":"S","t":3.36,"v":-96},
  {"s":"S","t":3.38,"v":120},{"s":"S","t":3.4,"v":-140},{"s":"S","t":3.42,"v":98},{"s":"S","t":3.44,"v":-128},
  {"s":"S","t":3.46,"v":140},{"s":"S","t":3.48,"v":-265},{"s":"S","t":3.5,"v":108},{"s":"S","t":3.52,"v":-82},
  {"s":"S","t":3.54,"v":115},{"s":"S","t":3.56,"v":-130},{"s":"S","t":3.58,"v":132},{"s":"S","t":3.6,"v":-110},
  {"s":"S","t":3.62,"v":150},{"s":"S","t":3.64,"v":-145},{"s":"S","t":3.66,"v":90},{"s":"S","t":3.68,"v":-120},
  {"s":"S","t":3.7,"v":125},{"s":"S","t":3.72,"v":-125},{"s":"S","t":3.74,"v":116},{"s":"S","t":3.76,"v":-94},
  {"s":"S","t":3.78,"v":224},{"s":"S","t":3.8,"v":-140},{"s":"S","t":3.82,"v":100},{"s":"S","t":3.84,"v":-136},
  {"s":"S","t":3.86,"v":130},{"s":"S","t":3.88,"v":-185},{"s":"S","t":3.9,"v":128},{"s":"S","t":3.92,"v":-104},
  {"s":"S","t":3.94,"v":150},{"s":"S","t":3.96,"v":-135},{"s":"S","t":3.98,"v":92},{"s":"S","t":4.0,"v":-122},
  {"s":"S","t":4.02,"v":135},{"s":"S","t":4.04,"v":-160},{"s":"S","t":4.06,"v":138},{"s":"S","t":4.08,"v":-98},
  {"s":"S","t":4.1,"v":160},{"s":"S","t":4.12,"v":-130},{"s":"S","t":4.14,"v":106},{"s":"S","t":4.16,"v":-130},
  {"s":"S","t":4.18,"v":125},{"s":"S","t":4.2,"v":-145},{"s":"S","t":4.22,"v":120},{"s":"S","t":4.24,"v":-88},
  {"s":"S","t":4.26,"v":175},{"s":"S","t":4.28,"v":-205},{"s":"S","t":4.3,"v":94},{"s":"S","t":4.32,"v":-126},
  {"s":"S","t":4.34,"v":135},{"s":"S","t":4.36,"v":-135},{"s":"S","t":4.38,"v":134},{"s":"S","t":4.4,"v":-112},
  {"s":"S","t":4.42,"v":150},{"s":"S","t":4.44,"v":-165},{"s":"S","t":4.46,"v":102},{"s":"S","t":4.48,"v":-140},
  {"s":"S","t":4.5,"v":125},{"s":"S","t":4.52,"v":-140},{"s":"S","t":4.54,"v":126},{"s":"S","t":4.56,"v":-96},
  {"s":"S","t":4.58,"v":170},{"s":"S","t":4.6,"v":-190},{"s":"S","t":4.62,"v":88},{"s":"S","t":4.64,"v":-118},
  {"s":"S","t":4.66,"v":135},{"s":"S","t":4.68,"v":-145},{"s":"S","t":4.7,"v":140},{"s":"S","t":4.72,"v":-106},
  {"s":"S","t":4.74,"v":195},{"s":"S","t":4.76,"v":-155},{"s":"S","t":4.78,"v":110},{"s":"S","t":4.8,"v":-132},
  {"s":"S","t":4.82,"v":145},{"s":"S","t":4.84,"v":-135},{"s":"S","t":4.86,"v":124},{"s":"S","t":4.88,"v":-92},
  {"s":"S","t":4.9,"v":225},{"s":"S","t":4.92,"v":-170},{"s":"S","t":4.94,"v":96},{"s":"S","t":4.96,"v":-138},
  {"s":"S","t":4.98,"v":135},{"s":"S","t":5.0,"v":-200},{"s":"S","t":5.02,"v":136},{"s":"S","t":5.04,"v":-114},
  {"s":"S","t":5.06,"v":165},{"s":"S","t":5.08,"v":-245},{"s":"S","t":5.1,"v":104},{"s":"S","t":5.12,"v":-126},
  {"s":"S","t":5.14,"v":135},{"s":"S","t":5.16,"v":-145},{"s":"S","t":5.18,"v":130},{"s":"S","t":5.2,"v":-100},
  {"s":"S","t":5.22,"v":185},{"s":"S","t":5.24,"v":-160},{"s":"S","t":5.26,"v":92},{"s":"S","t":5.28,"v":-134},
  {"s":"S","t":5.3,"v":125},{"s":"S","t":5.32,"v":-135},{"s":"S","t":5.34,"v":138},{"s":"S","t":5.36,"v":-108},
  {"s":"S","t":5.38,"v":195},{"s":"S","t":5.4,"v":-190},{"s":"S","t":5.42,"v":112},{"s":"S","t":5.44,"v":-122},
  {"s":"S","t":5.46,"v":135},{"s":"S","t":5.48,"v":-125},{"s":"S","t":5.5,"v":98},{"s":"S","t":5.52,"v":-140},
  {"s":"S","t":5.54,"v":155},{"s":"S","t":5.56,"v":-165},{"s":"S","t":5.58,"v":128},{"s":"S","t":5.6,"v":-96},
  {"s":"S","t":5.62,"v":115},{"s":"S","t":5.64,"v":-135},{"s":"S","t":5.66,"v":90},{"s":"S","t":5.68,"v":-116},
  {"s":"S","t":5.7,"v":140},{"s":"S","t":5.72,"v":-150},{"s":"S","t":5.74,"v":118},{"s":"S","t":5.76,"v":-130},
  {"s":"S","t":5.78,"v":195},{"s":"S","t":5.8,"v":-120},{"s":"S","t":5.82,"v":102},{"s":"S","t":5.84,"v":-92},
  {"s":"S","t":5.86,"v":115},{"s":"S","t":5.88,"v":-160},{"s":"S","t":5.9,"v":132},{"s":"S","t":5.92,"v":-110},
  {"s":"S","t":5.94,"v":130},{"s":"S","t":5.96,"v":-125},{"s":"S","t":5.98,"v":86},{"s":"S","t":6.0,"v":-124},
  {"s":"S","t":6.02,"v":110},{"s":"S","t":6.04,"v":-140},{"s":"S","t":6.06,"v":114},{"s":"S","t":6.08,"v":-98},
  {"s":"S","t":6.1,"v":155},{"s":"S","t":6.12,"v":-170},{"s":"S","t":6.14,"v":96},{"s":"S","t":6.16,"v":-130},
  {"s":"S","t":6.18,"v":115},{"s":"S","t":6.2,"v":-130},{"s":"S","t":6.22,"v":126},{"s":"S","t":6.24,"v":-88},
  {"s":"S","t":6.26,"v":135},{"s":"S","t":6.28,"v":-150},{"s":"S","t":6.3,"v":100},{"s":"S","t":6.32,"v":-118},
  {"s":"S","t":6.34,"v":170},{"s":"S","t":6.36,"v":-190},{"s":"S","t":6.38,"v":134},{"s":"S","t":6.4,"v":-106},
  {"s":"S","t":6.42,"v":125},{"s":"S","t":6.44,"v":-135},{"s":"S","t":6.46,"v":92},{"s":"S","t":6.48,"v":-128},
  {"s":"S","t":6.5,"v":150},{"s":"S","t":6.52,"v":-125},{"s":"S","t":6.54,"v":120},{"s":"S","t":6.56,"v":-100},
  {"s":"S","t":6.58,"v":115},{"s":"S","t":6.6,"v":-160},{"s":"S","t":6.62,"v":106},{"s":"S","t":6.64,"v":-136},
  {"s":"S","t":6.66,"v":135},{"s":"S","t":6.68,"v":-130},{"s":"S","t":6.7,"v":130},{"s":"S","t":6.72,"v":-94},
  {"s":"S","t":6.74,"v":110},{"s":"S","t":6.76,"v":-150},{"s":"S","t":6.78,"v":88},{"s":"S","t":6.8,"v":-114},
  {"s":"S","t":6.82,"v":160},{"s":"S","t":6.84,"v":-125},{"s":"S","t":6.86,"v":122},{"s":"S","t":6.88,"v":-104},
  {"s":"S","t":6.9,"v":125},{"s":"S","t":6.92,"v":-195},{"s":"S","t":6.94,"v":98},{"s":"S","t":6.96,"v":-132},
  {"s":"S","t":6.98,"v":150},{"s":"S","t":7.0,"v":-140},{"s":"S","t":7.02,"v":128},{"s":"S","t":7.04,"v":-96},
  {"s":"S","t":7.06,"v":115},{"s":"S","t":7.08,"v":-125},{"s":"S","t":7.1,"v":94},{"s":"S","t":7.12,"v":-112},
  {"s":"S","t":7.14,"v":130},{"s":"S","t":7.16,"v":-240},{"s":"S","t":7.18,"v":116},{"s":"S","t":7.2,"v":-100},
  {"s":"S","t":7.22,"v":105},{"s":"S","t":7.24,"v":-135},{"s":"S","t":7.26,"v":86},{"s":"S","t":7.28,"v":-120},
  {"s":"S","t":7.3,"v":150},{"s":"S","t":7.32,"v":-120},{"s":"S","t":7.34,"v":118},{"s":"S","t":7.36,"v":-92},
  {"s":"S","t":7.38,"v":120},{"s":"S","t":7.4,"v":-135},{"s":"S","t":7.42,"v":96},{"s":"S","t":7.44,"v":-110},
  {"s":"S","t":7.46,"v":140},{"s":"S","t":7.48,"v":-115},{"s":"S","t":7.5,"v":112},{"s":"S","t":7.52,"v":-84},
  {"s":"S","t":7.54,"v":110},{"s":"S","t":7.56,"v":-125},{"s":"S","t":7.58,"v":82},{"s":"S","t":7.6,"v":-104},
  {"s":"S","t":7.62,"v":125},{"s":"S","t":7.64,"v":-110},{"s":"S","t":7.66,"v":108},{"s":"S","t":7.68,"v":-96},
  {"s":"S","t":7.7,"v":105},{"s":"S","t":7.72,"v":-135},{"s":"S","t":7.74,"v":92},{"s":"S","t":7.76,"v":-116},
  {"s":"S","t":7.78,"v":140},{"s":"S","t":7.8,"v":-115},{"s":"S","t":7.82,"v":114},{"s":"S","t":7.84,"v":-86},
  {"s":"S","t":7.86,"v":115},{"s":"S","t":7.88,"v":-130},{"s":"S","t":7.9,"v":88},{"s":"S","t":7.92,"v":-108},
  {"s":"S","t":7.94,"v":130},{"s":"S","t":7.96,"v":-110},{"s":"S","t":7.98,"v":110},{"s":"S","t":8.0,"v":-94},
  {"s":"S","t":8.02,"v":110},{"s":"S","t":8.04,"v":-140},{"s":"S","t":8.06,"v":96},{"s":"S","t":8.08,"v":-118},
  {"s":"S","t":8.1,"v":150},{"s":"S","t":8.12,"v":-120},{"s":"S","t":8.14,"v":120},{"s":"S","t":8.16,"v":-100},
  {"s":"S","t":8.18,"v":115},{"s":"S","t":8.2,"v":-135},{"s":"S","t":8.22,"v":90},{"s":"S","t":8.24,"v":-112},
  {"s":"S","t":8.26,"v":140},{"s":"S","t":8.28,"v":-165},{"s":"S","t":8.3,"v":116},{"s":"S","t":8.32,"v":-124},
  {"s":"S","t":8.34,"v":110},{"s":"S","t":8.36,"v":-125},{"s":"S","t":8.38,"v":100},{"s":"S","t":8.4,"v":-96},
  {"s":"S","t":8.42,"v":160},{"s":"S","t":8.44,"v":-150},{"s":"S","t":8.46,"v":126},{"s":"S","t":8.48,"v":-110},
  {"s":"S","t":8.5,"v":120},{"s":"S","t":8.52,"v":-130},{"s":"S","t":8.54,"v":94},{"s":"S","t":8.56,"v":-120},
  {"s":"S","t":8.58,"v":140},{"s":"S","t":8.6,"v":-165},{"s":"S","t":8.62,"v":118},{"s":"S","t":8.64,"v":-102},
  {"s":"S","t":8.66,"v":115},{"s":"S","t":8.68,"v":-135},{"s":"S","t":8.7,"v":104},{"s":"S","t":8.72,"v":-128},
  {"s":"S","t":8.74,"v":155},{"s":"S","t":8.76,"v":-125},{"s":"S","t":8.78,"v":130},{"s":"S","t":8.8,"v":-98},
  {"s":"S","t":8.82,"v":125},{"s":"S","t":8.84,"v":-185},{"s":"S","t":8.86,"v":98},{"s":"S","t":8.88,"v":-134},
  {"s":"S","t":8.9,"v":170},{"s":"S","t":8.92,"v":-145},{"s":"S","t":8.94,"v":124},{"s":"S","t":8.96,"v":-106},
  {"s":"S","t":8.98,"v":135},{"s":"S","t":9.0,"v":-225},{"s":"S","t":9.02,"v":108},{"s":"S","t":9.04,"v":-126},
  {"s":"S","t":9.06,"v":150},{"s":"S","t":9.08,"v":-135},{"s":"S","t":9.1,"v":132},{"s":"S","t":9.12,"v":-100},
  {"s":"S","t":9.14,"v":120},{"s":"S","t":9.16,"v":-160},{"s":"S","t":9.18,"v":96},{"s":"S","t":9.2,"v":-118},
  {"s":"S","t":9.22,"v":165},{"s":"S","t":9.24,"v":-125},{"s":"S","t":9.26,"v":120},{"s":"S","t":9.28,"v":-92},
  {"s":"S","t":9.3,"v":125},{"s":"S","t":9.32,"v":-150},{"s":"S","t":9.34,"v":102},{"s":"S","t":9.36,"v":-124},
  {"s":"S","t":9.38,"v":150},{"s":"S","t":9.4,"v":-120},{"s":"S","t":9.42,"v":126},{"s":"S","t":9.44,"v":-108},
  {"s":"S","t":9.46,"v":115},{"s":"S","t":9.48,"v":-135},{"s":"S","t":9.5,"v":92},{"s":"S","t":9.52,"v":-116},
  {"s":"S","t":9.54,"v":155},{"s":"S","t":9.56,"v":-180},{"s":"S","t":9.58,"v":118},{"s":"S","t":9.6,"v":-130},
  {"s":"S","t":9.62,"v":125},{"s":"S","t":9.64,"v":-130},{"s":"S","t":9.66,"v":106},{"s":"S","t":9.68,"v":-98},
  {"s":"S","t":9.7,"v":140},{"s":"S","t":9.72,"v":-150},{"s":"S","t":9.74,"v":128},{"s":"S","t":9.76,"v":-120},
  {"s":"S","t":9.78,"v":115},{"s":"S","t":9.8,"v":-125},{"s":"S","t":9.82,"v":94},{"s":"S","t":9.84,"v":-104},
  {"s":"S","t":9.86,"v":165},{"s":"S","t":9.88,"v":-160},{"s":"S","t":9.9,"v":122},{"s":"S","t":9.92,"v":-132},
  {"s":"S","t":9.94,"v":125},{"s":"S","t":9.96,"v":-135},{"s":"S","t":9.98,"v":100},{"s":"S","t":10.0,"v":-110},
  {"s":"S","t":10.02,"v":150},{"s":"S","t":10.04,"v":-125},{"s":"S","t":10.06,"v":130},{"s":"S","t":10.08,"v":-96},
  {"s":"S","t":10.1,"v":120},{"s":"S","t":10.12,"v":-155},{"s":"S","t":10.14,"v":96},{"s":"S","t":10.16,"v":-126},
  {"s":"S","t":10.18,"v":160},{"s":"S","t":10.2,"v":-135},{"s":"S","t":10.22,"v":124},{"s":"S","t":10.24,"v":-104},
  {"s":"S","t":10.26,"v":125},{"s":"S","t":10.28,"v":-165},{"s":"S","t":10.3,"v":106},{"s":"S","t":10.32,"v":-134},
  {"s":"S","t":10.34,"v":145},{"s":"S","t":10.36,"v":-130},{"s":"S","t":10.38,"v":132},{"s":"S","t":10.4,"v":-100},
  {"s":"S","t":10.42,"v":115},{"s":"S","t":10.44,"v":-150},{"s":"S","t":10.46,"v":98},{"s":"S","t":10.48,"v":-120},
  {"s":"S","t":10.5,"v":165},{"s":"S","t":10.52,"v":-170},{"s":"S","t":10.54,"v":126},{"s":"S","t":10.56,"v":-138},
  {"s":"S","t":10.58,"v":130},{"s":"S","t":10.6,"v":-135},{"s":"S","t":10.62,"v":110},{"s":"S","t":10.64,"v":-104},
  {"s":"S","t":10.66,"v":155},{"s":"S","t":10.68,"v":-160},{"s":"S","t":10.7,"v":136},{"s":"S","t":10.72,"v":-122},
  {"s":"S","t":10.74,"v":125},{"s":"S","t":10.76,"v":-130},{"s":"S","t":10.78,"v":100},{"s":"S","t":10.8,"v":-112},
  {"s":"S","t":10.82,"v":175},{"s":"S","t":10.84,"v":-165},{"s":"S","t":10.86,"v":128},{"s":"S","t":10.88,"v":-134},
  {"s":"S","t":10.9,"v":135},{"s":"S","t":10.92,"v":-145},{"s":"S","t":10.94,"v":114},{"s":"S","t":10.96,"v":-102},
  {"s":"S","t":10.98,"v":160},{"s":"S","t":11.0,"v":-180},{"s":"S","t":11.02,"v":138},{"s":"S","t":11.04,"v":-126},
  {"s":"S","t":11.06,"v":130},{"s":"S","t":11.08,"v":-135},{"s":"S","t":11.1,"v":104},{"s":"S","t":11.12,"v":-118},
  {"s":"S","t":11.14,"v":150},{"s":"S","t":11.16,"v":-160},{"s":"S","t":11.18,"v":122},{"s":"S","t":11.2,"v":-100},
  {"s":"S","t":11.22,"v":115},{"s":"S","t":11.24,"v":-165},{"s":"S","t":11.26,"v":96},{"s":"S","t":11.28,"v":-112},
  {"s":"S","t":11.3,"v":140},{"s":"S","t":11.32,"v":-125},{"s":"S","t":11.34,"v":92},{"s":"S","t":11.36,"v":-96},
  {"s":"S","t":11.38,"v":149},{"s":"S","t":11.4,"v":-110},{"s":"S","t":11.42,"v":86},{"s":"S","t":11.44,"v":-90},
  {"s":"S","t":11.46,"v":100},{"s":"S","t":11.48,"v":-120},{"s":"S","t":11.5,"v":80},{"s":"S","t":11.52,"v":-84},
  {"s":"S","t":11.54,"v":95},{"s":"S","t":11.56,"v":-100},{"s":"S","t":11.58,"v":76},{"s":"S","t":11.6,"v":-80},
  {"s":"S","t":11.62,"v":85},{"s":"S","t":11.64,"v":-143},{"s":"S","t":11.66,"v":72},{"s":"S","t":11.68,"v":-76},
  {"s":"S","t":11.7,"v":110},{"s":"S","t":11.72,"v":-90},{"s":"S","t":11.74,"v":68},{"s":"S","t":11.76,"v":-72},
  {"s":"S","t":11.78,"v":80},{"s":"S","t":11.8,"v":-95},{"s":"S","t":11.82,"v":64},{"s":"S","t":11.84,"v":-68},
  {"s":"S","t":11.86,"v":90},{"s":"S","t":11.88,"v":-75},{"s":"S","t":11.9,"v":60},{"s":"S","t":11.92,"v":-64},
  {"s":"S","t":11.94,"v":70},{"s":"S","t":11.96,"v":-85},{"s":"S","t":11.98,"v":56},{"s":"S","t":12.0,"v":-60},
  {"s":"S","t":12.02,"v":98},{"s":"S","t":12.04,"v":-65},{"s":"S","t":12.06,"v":54},{"s":"S","t":12.08,"v":-56},
  {"s":"S","t":12.1,"v":65},{"s":"S","t":12.12,"v":-80},{"s":"S","t":12.14,"v":50},{"s":"S","t":12.16,"v":-54},
  {"s":"S","t":12.18,"v":75},{"s":"S","t":12.2,"v":-60},{"s":"S","t":12.22,"v":48},{"s":"S","t":12.24,"v":-50},
  {"s":"S","t":12.26,"v":60},{"s":"S","t":12.28,"v":-112},{"s":"S","t":12.3,"v":46},{"s":"S","t":12.32,"v":-48},
  {"s":"S","t":12.34,"v":80},{"s":"S","t":12.36,"v":-55},{"s":"S","t":12.38,"v":44},{"s":"S","t":12.4,"v":-46},
  {"s":"S","t":12.42,"v":55},{"s":"S","t":12.44,"v":-70},{"s":"S","t":12.46,"v":42},{"s":"S","t":12.48,"v":-44},
  {"s":"S","t":12.5,"v":65},{"s":"S","t":12.52,"v":-85},{"s":"S","t":12.54,"v":40},{"s":"S","t":12.56,"v":-42},
  {"s":"S","t":12.58,"v":50},{"s":"S","t":12.6,"v":-60},{"s":"S","t":12.62,"v":36},{"s":"S","t":12.64,"v":-40},
  {"s":"S","t":12.66,"v":61},{"s":"S","t":12.68,"v":-75},{"s":"S","t":12.7,"v":32},{"s":"S","t":12.72,"v":-36},
  {"s":"S","t":12.74,"v":45},{"s":"S","t":12.76,"v":-80},{"s":"S","t":12.78,"v":28},{"s":"S","t":12.8,"v":-30},
  {"s":"S","t":12.82,"v":35},{"s":"S","t":12.84,"v":-50},{"s":"S","t":12.86,"v":22},{"s":"S","t":12.88,"v":-24},
  {"s":"S","t":12.9,"v":20},{"s":"S","t":12.92,"v":-15},{"s":"S","t":12.94,"v":10},{"s":"S","t":12.96,"v":-8},
  {"s":"S","t":12.98,"v":3},{"s":"S","t":13.1,"v":-2},{"s":"S","t":13.6,"v":-1},{"s":"S","t":14.2,"v":-2},{"s":"S","t":14.8,"v":-1},{"s":"S","t":15.45,"v":-2}
 ]
},
"vconcat": [
 {
  "width": 1007, "height": 356,
  "data": {"name": "torque"},
  "mark": {"type": "line", "strokeWidth": 6, "strokeJoin": "round", "strokeCap": "round"},
  "encoding": {
   "x": {"field": "t", "type": "quantitative", "scale": {"domain": [0, 15.44], "nice": false, "zero": false},
    "axis": {"values": [0,1,2,3,4,5,6,7,8,9,10,11,12,13,14,15], "title": "Time (s)", "domainColor": "#878787", "domainWidth": 5, "ticks": false, "labelFlush": false, "labelPadding": 16, "titlePadding": 9}},
   "y": {"field": "v", "type": "quantitative", "scale": {"domain": [0, 1.1], "nice": false},
    "axis": {"values": [0, 0.5, 1], "format": ".0%", "title": "% of Peak Torque", "domainColor": "#BFBFBF", "tickColor": "#BFBFBF", "tickSize": 8, "labelPadding": 14, "titlePadding": 4}},
   "color": {"field": "s", "type": "nominal", "scale": {"domain": ["F", "S"], "range": ["#000000", "#FFC800"]},
    "legend": {"title": null, "orient": "none", "legendX": 782, "legendY": -13, "symbolType": "stroke", "symbolStrokeWidth": 6, "symbolSize": 1000, "rowPadding": 2, "labelExpr": "datum.label == 'F' ? 'Fast Training Subject' : 'Slow Training Subject'"}}
  }
 },
 {
  "width": 1008, "height": 391,
  "title": {"text": "(B)", "anchor": "start", "frame": "bounds", "fontSize": 26, "fontWeight": "bold", "font": "Lato", "color": "#111111", "dy": 32, "dx": -19},
  "data": {"name": "emg"},
  "mark": {"type": "line", "strokeWidth": 2},
  "encoding": {
   "x": {"field": "t", "type": "quantitative", "scale": {"domain": [-0.093, 15.47], "nice": false, "zero": false},
    "axis": {"values": [0,1,2,3,4,5,6,7,8,9,10,11,12,13,14,15], "title": "Time (s)", "offset": -192, "domainColor": "#878787", "domainWidth": 3, "ticks": false, "labelFlush": false, "labelPadding": 10, "titleY": 198}},
   "y": {"field": "v", "type": "quantitative", "scale": {"domain": [-400, 400], "nice": false},
    "axis": {"values": [-400, -200, 0, 200, 400], "labelExpr": "datum.value + '%'", "title": "EMG (% maximum)", "offset": -6, "domainColor": "#BFBFBF", "tickColor": "#BFBFBF", "tickSize": 8, "labelPadding": 10, "titlePadding": 4}},
   "color": {"field": "s", "type": "nominal", "scale": {"domain": ["F", "S"], "range": ["#000000", "#FFC800"]},
    "legend": {"title": null, "orient": "none", "legendX": 782, "legendY": -11, "symbolType": "stroke", "symbolStrokeWidth": 3, "symbolSize": 1000, "rowPadding": 6, "labelExpr": "datum.label == 'F' ? 'Fast Training Subject' : 'Slow Training Subject'"}}
  }
 }
]
}
